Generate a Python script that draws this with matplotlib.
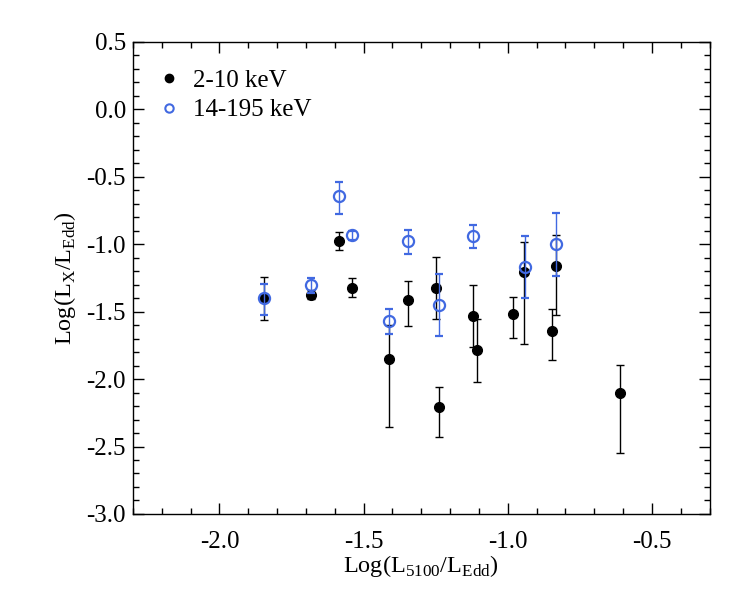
import numpy as np
import matplotlib
matplotlib.use('Agg')
import matplotlib.pyplot as plt
from matplotlib.ticker import MultipleLocator, FormatStrFormatter
from matplotlib.lines import Line2D

plt.rcParams['font.family'] = ['Liberation Serif', 'DejaVu Serif']
plt.rcParams['mathtext.fontset'] = 'custom'
plt.rcParams['mathtext.rm'] = 'Liberation Serif'
plt.rcParams['axes.unicode_minus'] = False

# 2-10 keV points (black)
hard_x = [-1.847, -1.684, -1.585, -1.539, -1.413, -1.347, -1.250, -1.238,
          -1.119, -1.106, -0.981, -0.944, -0.846, -0.833, -0.610]
hard_y = [-1.398, -1.373, -0.977, -1.324, -1.854, -1.410, -1.324, -2.208,
          -1.531, -1.788, -1.519, -1.207, -1.640, -1.160, -2.106]
hard_up = [-1.242, -1.343, -0.908, -1.249, -1.600, -1.276, -1.094, -2.062,
           -1.301, -1.558, -1.395, -0.983, -1.481, -0.930, -1.892]
hard_lo = [-1.563, -1.403, -1.044, -1.395, -2.354, -1.610, -1.553, -2.428,
           -1.763, -2.020, -1.696, -1.743, -1.862, -1.524, -2.549]

# 14-195 keV points (blue, open)
bat_x = [-1.847, -1.684, -1.585, -1.539, -1.413, -1.347, -1.238, -1.119,
         -0.941, -0.833]
bat_y = [-1.398, -1.304, -0.646, -0.935, -1.568, -0.975, -1.450, -0.940,
         -1.168, -0.997]
bat_up = [-1.294, -1.254, -0.538, -0.903, -1.484, -0.891, -1.222, -0.861,
          -0.938, -0.770]
bat_lo = [-1.524, -1.358, -0.775, -0.970, -1.667, -1.074, -1.682, -1.029,
          -1.400, -1.232]

blue = '#4169E1'

fig = plt.figure(figsize=(7.47, 5.99), dpi=100)
ax = fig.add_axes([0.178, 0.142, 0.772, 0.788])

hy = np.array(hard_y)
ax.errorbar(hard_x, hard_y,
            yerr=[hy - np.array(hard_lo), np.array(hard_up) - hy],
            fmt='o', color='black', ms=7, elinewidth=1.0, capsize=3,
            capthick=1.0, zorder=2)

by = np.array(bat_y)
ax.errorbar(bat_x, bat_y,
            yerr=[by - np.array(bat_lo), np.array(bat_up) - by],
            fmt='o', mfc='none', mec=blue, mew=1.6, color=blue, ms=8,
            elinewidth=1.0, capsize=3, capthick=1.0, zorder=3)

ax.set_xlim(-2.3, -0.3)
ax.set_ylim(-3.0, 0.5)
ax.xaxis.set_major_locator(MultipleLocator(0.5))
ax.xaxis.set_minor_locator(MultipleLocator(0.1))
ax.yaxis.set_major_locator(MultipleLocator(0.5))
ax.yaxis.set_minor_locator(MultipleLocator(0.1))
ax.xaxis.set_major_formatter(FormatStrFormatter('%.1f'))
ax.yaxis.set_major_formatter(FormatStrFormatter('%.1f'))
ax.tick_params(which='both', direction='in', top=True, right=True,
               labelsize=18, width=1)
ax.tick_params(which='major', length=8)
ax.tick_params(which='minor', length=4)
ax.tick_params(axis='x', which='major', pad=12)
ax.tick_params(axis='y', which='major', pad=5)
for s in ax.spines.values():
    s.set_linewidth(1)

ax.set_xlabel(r'Log(L$_{\mathrm{5100}}$/L$_{\mathrm{Edd}}$)', fontsize=17.5,
              labelpad=0)
ax.set_ylabel(r'Log(L$_{\mathrm{X}}$/L$_{\mathrm{Edd}}$)', fontsize=17.5,
              labelpad=6)

handles = [Line2D([], [], ls='none', marker='o', color='black', ms=6),
           Line2D([], [], ls='none', marker='o', mfc='none', mec=blue,
                  mew=1.5, ms=6)]
ax.legend(handles, ['2-10 keV', '14-195 keV'], loc='upper left',
          frameon=False, fontsize=18, handletextpad=0.46, labelspacing=0.28,
          borderaxespad=0, borderpad=0, handlelength=1.0,
          bbox_to_anchor=(0.041, 0.942))

fig.savefig('out.png', dpi=100)
